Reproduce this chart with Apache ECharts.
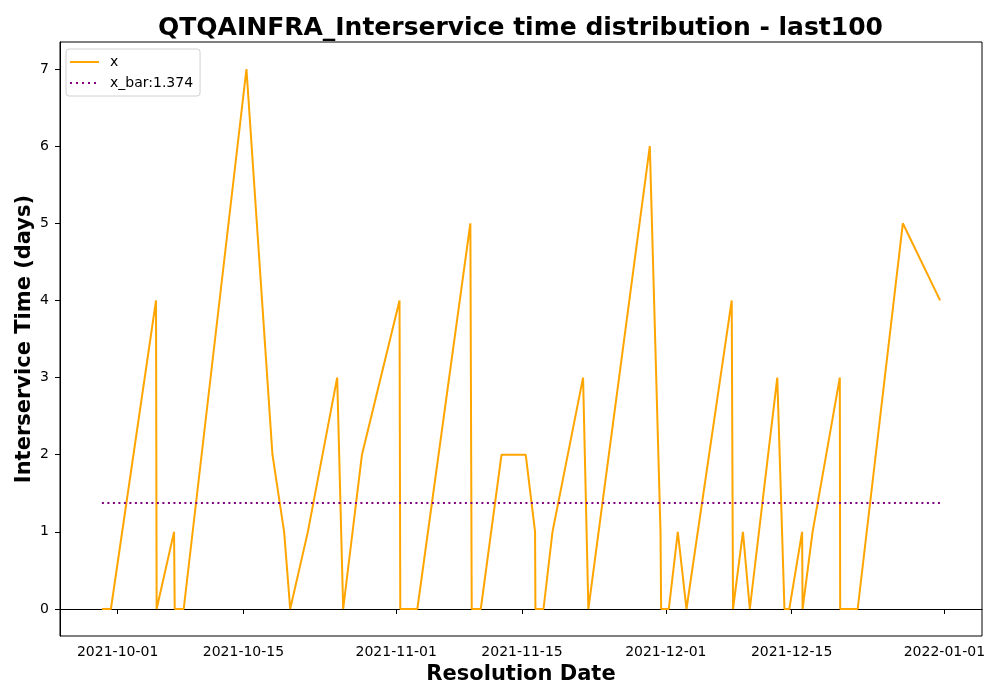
<!DOCTYPE html>
<html>
<head>
<meta charset="utf-8">
<script src="https://cdn.jsdelivr.net/npm/echarts@6/dist/echarts.min.js"></script>
<style>
  html, body { margin: 0; padding: 0; background: #fff; }
  #chart { width: 1000px; height: 700px; }
</style>
</head>
<body>
<div id="chart"></div>
<script>
// resolution times
const resolutionDates = [
  '2021-09-29T06:00', '2021-09-30T06:00', '2021-10-05T06:30', '2021-10-05T08:10',
  '2021-10-07T06:40', '2021-10-07T08:25', '2021-10-08T08:25', '2021-10-15T08:00',
  '2021-10-18T05:30', '2021-10-19T12:40', '2021-10-20T04:50', '2021-10-22T04:00',
  '2021-10-25T10:20', '2021-10-26T02:20', '2021-10-28T04:30', '2021-11-01T08:50',
  '2021-11-01T10:50', '2021-11-03T08:25', '2021-11-09T06:00', '2021-11-09T09:40',
  '2021-11-10T09:50', '2021-11-12T17:15', '2021-11-15T09:50', '2021-11-16T10:50',
  '2021-11-16T11:45', '2021-11-17T09:20', '2021-11-18T09:20', '2021-11-21T19:00',
  '2021-11-22T09:10', '2021-11-29T05:15', '2021-11-30T09:50', '2021-11-30T11:30',
  '2021-12-01T08:00', '2021-12-02T08:00', '2021-12-03T07:10', '2021-12-08T08:00',
  '2021-12-08T11:30', '2021-12-09T14:00', '2021-12-10T08:20', '2021-12-13T09:40',
  '2021-12-14T04:50', '2021-12-14T17:45', '2021-12-16T04:00', '2021-12-16T05:15',
  '2021-12-17T08:00', '2021-12-20T08:40', '2021-12-20T09:40', '2021-12-22T08:25',
  '2021-12-27T09:00', '2021-12-31T12:30'
];
const intervals = [
  0, 0, 4, 0,
  1, 0, 0, 7,
  2, 1, 0, 1,
  3, 0, 2, 4,
  0, 0, 5, 0,
  0, 2, 2, 1,
  0, 0, 1, 3,
  0, 6, 1, 0,
  0, 1, 0, 4,
  0, 1, 0, 3,
  0, 0, 1, 0,
  1, 3, 0, 0,
  5, 4
];
const xBar = 1.374;
const dateTicks = ['2021-10-01', '2021-10-15', '2021-11-01', '2021-11-15', '2021-12-01', '2021-12-15', '2022-01-01'];
const yTicks = [0, 1, 2, 3, 4, 5, 6, 7];

const ts = resolutionDates.map(d => new Date(d).getTime());
const first = ts[0], last = ts[ts.length - 1];
const pad = (last - first) * 0.05;
const tickTs = dateTicks.map(d => new Date(d + 'T00:00').getTime());

const font = 'DejaVu Sans';
const chart = echarts.init(document.getElementById('chart'));

function fmtDate(v) {
  const d = new Date(v);
  const p = n => String(n).padStart(2, '0');
  return d.getFullYear() + '-' + p(d.getMonth() + 1) + '-' + p(d.getDate());
}

// legend icons: plain line and dotted line, no markers
const solidIcon = 'path://M0,0h29v2h-29z';
const dottedIcon = 'path://M0,0h2v2h-2z M6,0h2v2h-2z M12,0h2v2h-2z M18,0h2v2h-2z M24,0h2v2h-2z M27,0h2v0h-2z';

chart.setOption({
  animation: false,
  backgroundColor: '#fff',
  title: {
    text: 'QTQAINFRA_Interservice time distribution - last100',
    left: 153,
    top: 11,
    textStyle: { fontFamily: font, fontSize: 25, fontWeight: 'bold', color: '#000' }
  },
  legend: {
    orient: 'vertical',
    left: 66,
    top: 49,
    padding: [6, 7, 6, 4],
    itemGap: 7,
    itemWidth: 29,
    itemHeight: 14,
    borderColor: '#d0d0d0',
    borderWidth: 1,
    borderRadius: 3,
    backgroundColor: 'rgba(255,255,255,0.8)',
    textStyle: { fontFamily: font, fontSize: 14, color: '#000', padding: [0, 0, 0, 6] },
    data: [
      { name: 'x', icon: solidIcon, itemStyle: { color: '#ffa500' } },
      { name: 'x_bar:' + xBar, icon: dottedIcon, itemStyle: { color: '#800080' } }
    ]
  },
  grid: {
    left: 60, right: 18, top: 42, bottom: 64,
    show: true, borderColor: '#000', borderWidth: 1, backgroundColor: '#fff'
  },
  xAxis: {
    type: 'value',
    min: first - pad,
    max: last + pad,
    name: 'Resolution Date',
    nameLocation: 'middle',
    nameGap: 28,
    nameMoveOverlap: false,
    nameTextStyle: { fontFamily: font, fontSize: 21, fontWeight: 'bold', color: '#000' },
    axisLine: { lineStyle: { color: '#000', width: 1 } },
    axisTick: { customValues: tickTs, length: 5, lineStyle: { color: '#000' } },
    axisLabel: {
      customValues: tickTs,
      formatter: v => fmtDate(v),
      fontFamily: font, fontSize: 14, color: '#000', margin: 9,
      hideOverlap: false
    },
    splitLine: { show: false }
  },
  yAxis: {
    type: 'value',
    min: -0.35,
    max: 7.35,
    name: 'Interservice Time (days)',
    nameLocation: 'middle',
    nameGap: 25,
    nameMoveOverlap: false,
    nameTextStyle: { fontFamily: font, fontSize: 21, fontWeight: 'bold', color: '#000' },
    axisLine: { show: true, lineStyle: { color: '#000', width: 1 } },
    axisTick: { show: true, customValues: yTicks, length: 5, lineStyle: { color: '#000' } },
    axisLabel: { customValues: yTicks, fontFamily: font, fontSize: 14, color: '#000', margin: 11 },
    splitLine: { show: false }
  },
  series: [
    {
      name: 'x',
      type: 'line',
      data: ts.map((t, i) => [t, intervals[i]]),
      showSymbol: false,
      symbol: 'none',
      lineStyle: { color: '#ffa500', width: 2 },
      itemStyle: { color: '#ffa500' }
    },
    {
      name: 'x_bar:' + xBar,
      type: 'line',
      data: [[first, xBar], [last, xBar]],
      showSymbol: false,
      symbol: 'none',
      lineStyle: { color: '#800080', width: 2, type: [2, 3.5] },
      itemStyle: { color: '#800080' }
    }
  ]
});
</script>
</body>
</html>
